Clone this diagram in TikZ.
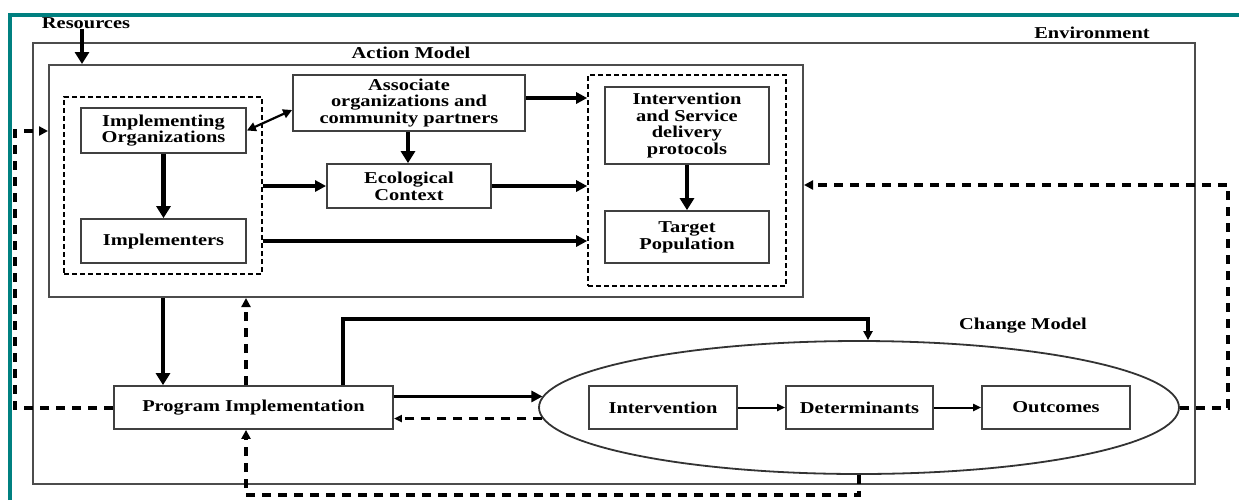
\documentclass[tikz,border=0pt]{standalone}
\usepackage{fontspec}
\setmainfont{Liberation Serif}
\usepackage{graphicx}
\usetikzlibrary{arrows.meta,shapes.geometric,fit}
\definecolor{tealframe}{RGB}{0,128,128}
\newcommand{\hs}[1]{\scalebox{1.23}[1]{#1}}
\begin{document}
\begin{tikzpicture}[x=0.5pt,y=-0.5pt,
  txt/.style={font=\bfseries\fontsize{8.3}{8.4}\selectfont, align=center},
  box/.style={txt, draw=black!75, line width=0.9pt, inner sep=0pt},
  frame/.style={draw=black!70, line width=1pt, inner sep=0pt},
  grp/.style={draw=black, line width=0.8pt, dash pattern=on 2.5pt off 1.5pt, inner sep=0pt},
  lbl/.style={txt, inner sep=0pt},
  tarrow/.style={line width=2.4pt, -{Triangle[length=6pt,width=7pt]}},
  marrow/.style={line width=1.6pt, -{Triangle[length=5.5pt,width=5.5pt]}},
  sarrow/.style={line width=1pt, -{Triangle[length=4pt,width=3.5pt]}},
  darrow/.style={line width=2pt, dash pattern=on 4.5pt off 3.5pt, -{Triangle[length=4.5pt,width=4.5pt]}},
  dline/.style={line width=1.8pt, dash pattern=on 4.5pt off 3.5pt}
]
\useasboundingbox (0,0) rectangle (1239,500);
\draw[tealframe, line width=1.6pt] (10,500) -- (10,15) -- (1239,15);

% helper coordinates
\coordinate (x163) at (163,0);
\coordinate (x246) at (246,0);
\coordinate (x343) at (343,0);
\coordinate (x408) at (408,0);
\coordinate (x868) at (868,0);
\coordinate (x82) at (82,0);
\coordinate (y98) at (0,98);
\coordinate (y110) at (0,110);
\coordinate (y131) at (0,131);
\coordinate (y185) at (0,185);
\coordinate (y319) at (0,319);
\coordinate (y495) at (0,495);
\coordinate (lb) at (15,131);
\coordinate (rb) at (1228,185);

% frames
\node[frame, fit={(33,43) (1195,484)}] (env) {};
\node[frame, fit={(49,65) (803,297)}] (am) {};
\node[grp, fit={(64,97) (262,274)}] (lg) {};
\node[grp, fit={(588,75) (786,286)}] (rg) {};

% labels
\node[lbl] (resl) at (86,23) {\hs{Resources}};
\node[lbl] (envl) at (1092,33) {\hs{Environment}};
\node[lbl] (aml) at (411,53) {\hs{Action Model}};
\node[lbl] (cml) at (1023,326) {\hs{Change Model}};

% boxes
\node[box, minimum width=82.5pt, minimum height=22.5pt] (io) at (163.5,130.5) {\hs{Implementing}\\\hs{Organizations}};
\node[box, minimum width=82.5pt, minimum height=22pt] (imp) at (163.5,241) {\hs{Implementers}};
\node[box, minimum width=116pt, minimum height=28pt] (assoc) at (409,103) {\hs{Associate}\\\hs{organizations and}\\\hs{community partners}};
\node[box, minimum width=82pt, minimum height=22pt] (eco) at (409,186) {\hs{Ecological}\\\hs{Context}};
\node[box, minimum width=82pt, minimum height=38.5pt] (isdp) at (687,125.5) {\hs{Intervention}\\\hs{and Service}\\\hs{delivery}\\\hs{protocols}};
\node[box, minimum width=82pt, minimum height=26pt] (tp) at (687,237) {\hs{Target}\\\hs{Population}};
\node[box, minimum width=139.5pt, minimum height=21.5pt] (pi) at (253.5,407.5) {\hs{Program Implementation}};
\node[draw=black!80, line width=0.9pt, ellipse, minimum width=320pt, minimum height=66.5pt, inner sep=0pt] (cm) at (859,407.5) {};
\node[box, minimum width=74pt, minimum height=21.5pt] (iv) at (663,407.5) {\hs{Intervention}};
\node[box, minimum width=73.5pt, minimum height=21.5pt] (det) at (859.5,407.5) {\hs{Determinants}};
\node[box, minimum width=74pt, minimum height=21.5pt] (out) at (1056,407.5) {\hs{Outcomes}};

% connectors inside action model
\draw[tarrow] (resl.south -| x82) -- (am.north -| x82);
\draw[tarrow] (io.south) -- (imp.north);
\draw[line width=1.1pt, {Triangle[length=4.5pt,width=4.5pt]}-{Triangle[length=4.5pt,width=4.5pt]}] (io.east) -- (assoc.west |- y110);
\draw[tarrow] (assoc.south -| x408) -- (eco.north -| x408);
\draw[marrow] (lg.east |- eco.west) -- (eco.west);
\draw[marrow] (eco.east) -- (rg.west |- eco.east);
\draw[marrow] (lg.east |- imp.east) -- (rg.west |- imp.east);
\draw[marrow] (assoc.east |- y98) -- (rg.west |- y98);
\draw[tarrow] (isdp.south) -- (tp.north);

% action model <-> program implementation
\draw[tarrow] (am.south -| x163) -- (pi.north -| x163);
\draw[darrow] (pi.north -| x246) -- (am.south -| x246);
\draw[line width=1.6pt, -{Triangle[length=4.5pt,width=4.5pt]}] (pi.north -| x343) |- (x868 |- y319) -- (cm.north -| x868);
\draw[marrow] (pi.east |- cm.178) -- (cm.178);
\draw[dline, -{Triangle[length=4pt,width=3.5pt,open]}] (cm.182) -- (pi.east |- cm.182);

% change model
\draw[sarrow] (iv.east) -- (det.west);
\draw[sarrow] (det.east) -- (out.west);

% feedback loops
\draw[darrow] (cm.south) -- (cm.south |- y495) -| (pi.south -| x246);
\draw[darrow] (pi.west) -| (lb) -- (am.west |- y131);
\draw[darrow] (cm.east) -| (rb) -- (am.east |- y185);
\end{tikzpicture}
\end{document}
